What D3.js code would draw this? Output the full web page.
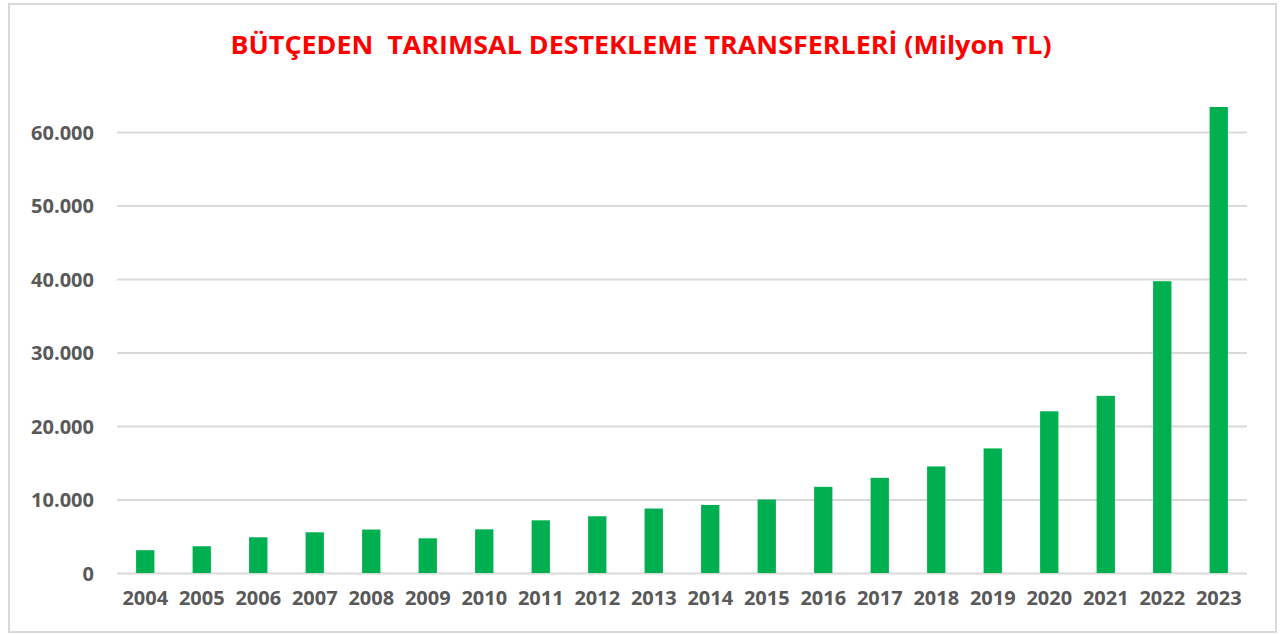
<!DOCTYPE html>
<html>

<head>
  <meta charset="utf-8">
  <script src="https://cdn.jsdelivr.net/npm/d3@7"></script>
  <style type="text/css">
    body {
      margin: 0;
      background: #fff;
      font-family: "Open Sans", "DejaVu Sans", sans-serif;
    }
    svg { display: block; }
  </style>
</head>

<body>
  <script type="text/javascript">
    const width = 1282;
    const height = 634;

    const title = 'BÜTÇEDEN  TARIMSAL DESTEKLEME TRANSFERLERİ (Milyon TL)';
    const years = ['2004', '2005', '2006', '2007', '2008', '2009', '2010', '2011', '2012', '2013',
      '2014', '2015', '2016', '2017', '2018', '2019', '2020', '2021', '2022', '2023'];
    const values = [3100, 3640, 4860, 5540, 5910, 4720, 5940, 7170, 7720, 8770,
      9260, 10000, 11720, 12950, 14500, 16950, 22000, 24100, 39700, 63400];
    const yTicks = [0, 10000, 20000, 30000, 40000, 50000, 60000];

    const margin = { top: 132, right: 35, bottom: 61, left: 117 };
    // plot area: x 117..1247, zero line at y 573, 60.000 at y 132

    const svg = d3.select('body').append('svg')
      .attr('width', width)
      .attr('height', height);

    // chart border
    svg.append('rect')
      .attr('x', 9).attr('y', 4)
      .attr('width', 1267).attr('height', 628)
      .attr('fill', '#fff')
      .attr('stroke', '#d9d9d9')
      .attr('stroke-width', 2);

    const x = d3.scaleBand()
      .domain(years)
      .range([margin.left, width - margin.right])
      .paddingInner(0.676)
      .paddingOuter(0.338);

    const y = d3.scaleLinear()
      .domain([0, 60000])
      .range([573, 132]);

    const fmt = d => d === 0 ? '0' : d3.format(',')(d).replace(/,/g, '.');

    // gridlines
    const yAxis = svg.append('g')
      .attr('transform', `translate(${margin.left},0)`)
      .call(d3.axisLeft(y).tickValues(yTicks).tickFormat(fmt)
        .tickSize(-(width - margin.right - margin.left)).tickPadding(23));
    yAxis.select('.domain').remove();
    yAxis.selectAll('.tick line')
      .attr('stroke', '#d9d9d9')
      .attr('stroke-width', 2);
    yAxis.selectAll('.tick text')
      .attr('fill', '#595959')
      .style('font-family', '"Open Sans", sans-serif')
      .style('font-size', '20px')
      .style('font-weight', 700)
      .attr('dy', '0.36em');

    // bars
    svg.append('g').selectAll('rect').data(values).join('rect')
      .attr('x', (d, i) => x(years[i]))
      .attr('width', x.bandwidth())
      .attr('y', d => y(d))
      .attr('height', d => y(0) - y(d))
      .attr('fill', '#00b050');

    // x axis labels
    const xAxis = svg.append('g')
      .attr('transform', `translate(0,${y(0)})`)
      .call(d3.axisBottom(x).tickSize(0).tickPadding(18));
    xAxis.select('.domain').remove();
    xAxis.selectAll('.tick text')
      .attr('fill', '#595959')
      .style('font-family', '"Open Sans", sans-serif')
      .style('font-size', '20px')
      .style('font-weight', 700);

    // title
    svg.append('text')
      .attr('x', 641)
      .attr('y', 54)
      .attr('text-anchor', 'middle')
      .attr('fill', '#ff0000')
      .style('font-family', '"Open Sans", sans-serif')
      .style('font-size', '25px')
      .style('font-weight', 700)
      .style('white-space', 'pre')
      .attr('textLength', 821)
      .attr('lengthAdjust', 'spacingAndGlyphs')
      .text(title);
  </script>
</body>

</html>
